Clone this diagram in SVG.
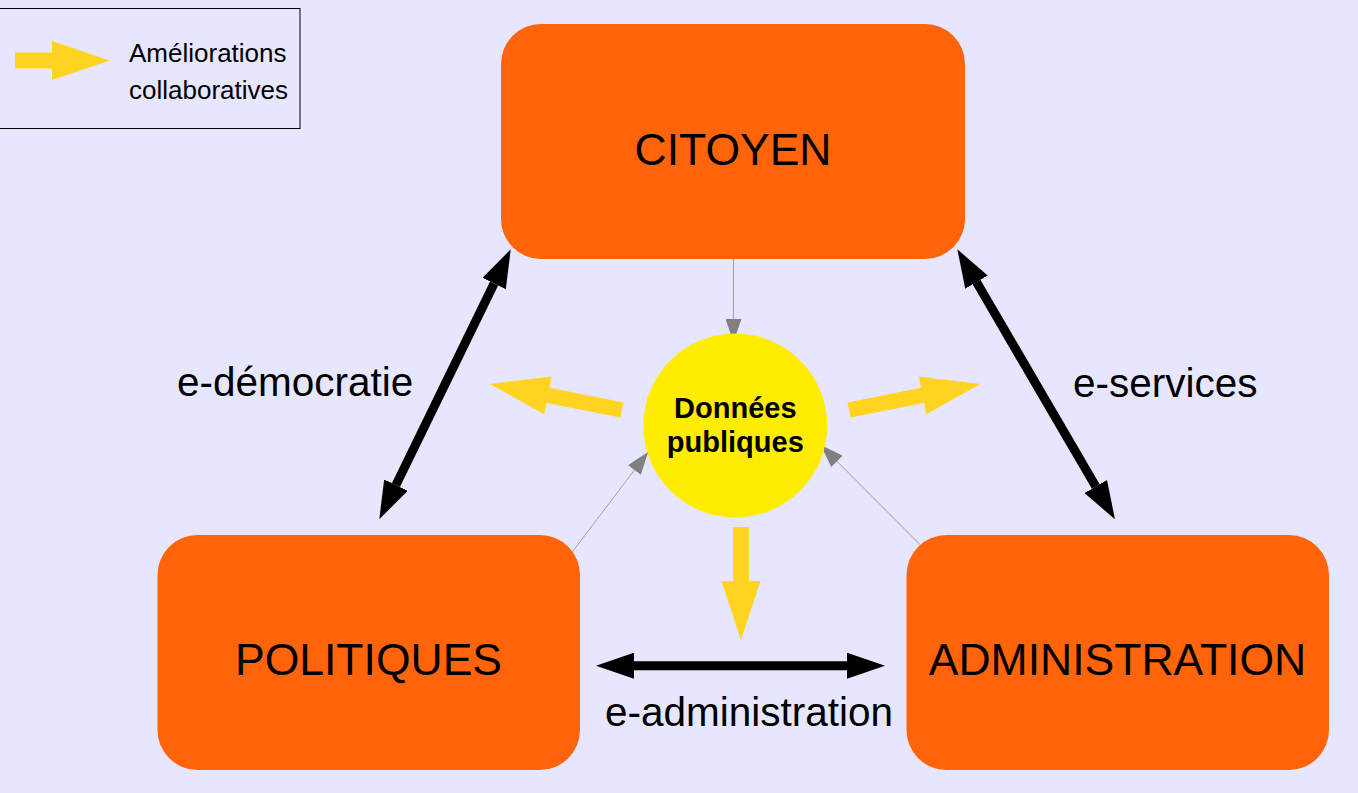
<svg xmlns="http://www.w3.org/2000/svg" width="1358" height="793" viewBox="0 0 1358 793">
<defs>
<style>
.box{fill:#ff640a;}
.lbl{font-family:"Liberation Sans",Arial,Helvetica,sans-serif;fill:#000;}
.big{font-size:44.5px;text-anchor:middle;}
.edge{font-size:40.5px;}
.dbl{stroke:#000;stroke-width:9;fill:none;marker-start:url(#bh);marker-end:url(#bh);}
.thin{stroke:#999;stroke-width:0.9;fill:none;marker-end:url(#gh);}
.yarrow{fill:#ffd320;}
</style>
<marker id="bh" markerUnits="userSpaceOnUse" viewBox="0 0 38 26" refX="0" refY="13" markerWidth="38" markerHeight="26" orient="auto-start-reverse">
<path d="M0,0 L38,13 L0,26 Z" fill="#000"/>
</marker>
<marker id="gh" markerUnits="userSpaceOnUse" viewBox="0 0 23 16" refX="23" refY="8" markerWidth="23" markerHeight="16" orient="auto">
<path d="M0,0 L23,8 L0,16 Z" fill="#808080"/>
</marker>
</defs>
<rect x="0" y="0" width="1358" height="793" fill="#e6e6ff"/>

<g id="legend">
<rect x="-1" y="8.5" width="301" height="120" fill="none" stroke="#000" stroke-width="1"/>
<path class="yarrow" transform="translate(15,60.5)" d="M0,-8 H37 V-19.5 L95,0 L37,19.5 V8 H0 Z"/>
<text class="lbl" x="129" y="62" font-size="26">Améliorations</text>
<text class="lbl" x="129" y="99" font-size="26">collaboratives</text>
</g>

<g id="connectors">
<line class="thin" x1="733.5" y1="259" x2="733.5" y2="342" stroke="#808080"/>
<line class="thin" x1="571.7" y1="552.7" x2="648.3" y2="451.7"/>
<line class="thin" x1="923" y1="547.5" x2="820.7" y2="445"/>
<line class="dbl" x1="395.9" y1="485.1" x2="494.1" y2="283.5"/>
<line class="dbl" x1="976.5" y1="282.1" x2="1095.8" y2="486.5"/>
<line class="dbl" x1="634" y1="665.7" x2="847" y2="665.7"/>
</g>

<g id="improvements">
<path class="yarrow" transform="translate(622,410) rotate(191.14)" d="M0,-7.75 H75.5 V-19.25 L134.5,0 L75.5,19.25 V7.75 H0 Z"/>
<path class="yarrow" transform="translate(849,410) rotate(-11.17)" d="M0,-7.75 H75 V-19.25 L134,0 L75,19.25 V7.75 H0 Z"/>
<path class="yarrow" transform="translate(741,527) rotate(90)" d="M0,-8 H54 V-19.5 L113,0 L54,19.5 V8 H0 Z"/>
</g>

<g id="citoyen">
<rect class="box" x="501" y="24" width="464" height="235" rx="40" ry="40"/>
<text class="lbl big" x="733" y="165">CITOYEN</text>
</g>

<g id="politiques">
<rect class="box" x="157.5" y="535" width="422.5" height="235" rx="40" ry="40"/>
<text class="lbl big" x="368.5" y="675">POLITIQUES</text>
</g>

<g id="administration">
<rect class="box" x="906.5" y="535" width="422.5" height="235" rx="40" ry="40"/>
<text class="lbl big" x="1117.5" y="675">ADMINISTRATION</text>
</g>

<g id="donnees">
<circle cx="735.3" cy="425.5" r="92" fill="#ffec00"/>
<text class="lbl" x="735.3" y="418" font-size="29" font-weight="bold" text-anchor="middle">Données</text>
<text class="lbl" x="735.3" y="452" font-size="29" font-weight="bold" text-anchor="middle">publiques</text>
</g>

<g id="edge-labels">
<text class="lbl edge" x="177" y="396">e-démocratie</text>
<text class="lbl edge" x="1073" y="397">e-services</text>
<text class="lbl edge" x="605" y="726">e-administration</text>
</g>
</svg>
